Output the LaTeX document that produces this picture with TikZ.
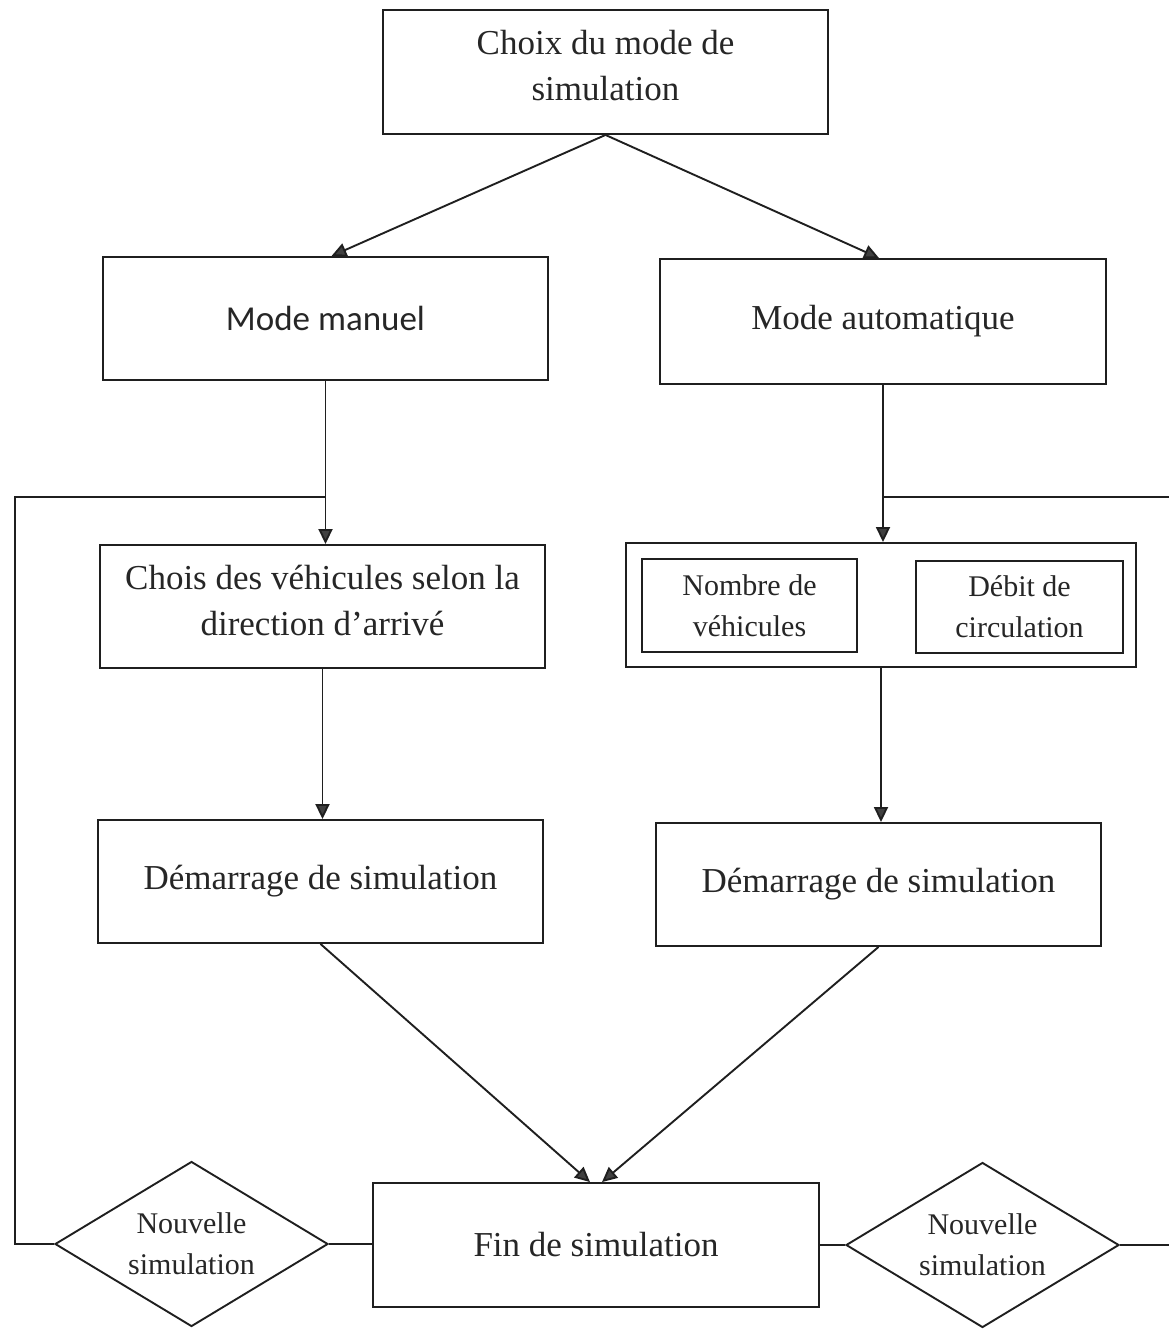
\documentclass[tikz,border=0pt]{standalone}
\usepackage{fontspec}
\setmainfont{Liberation Serif}
\newfontfamily\calfont{Carlito}
\usetikzlibrary{arrows.meta,shapes.geometric,calc}

\tikzset{
  every picture/.style={x=1pt,y=-1pt},
  line/.style={line width=1.9pt,draw=black!88},
  flow/.style={line,-{Triangle[length=15pt,width=14pt,fill=black!75]}},
  box/.style={line,rectangle,inner sep=0pt,align=center,text=black!85,
    font=\fontsize{35}{46}\selectfont},
  smallbox/.style={box,font=\fontsize{30}{41}\selectfont},
  choice/.style={line,diamond,aspect=1.65,inner sep=0pt,align=center,text=black!85,
    minimum width=273pt,minimum height=165pt,
    font=\fontsize{30}{41}\selectfont},
}

\begin{document}
\begin{tikzpicture}
\useasboundingbox (0,0) rectangle (1169,1330);

% main column boxes
\node[box,minimum width=445pt,minimum height=124pt] (top) at (605.5,72)
  {Choix du mode de\\simulation\\[-33pt]};
\node[box,minimum width=445pt,minimum height=123pt,font=\calfont\fontsize{35}{46}\selectfont]
  (mm) at (325.5,318.5) {Mode manuel};
\node[box,minimum width=446pt,minimum height=125pt] (ma) at (883,321.5)
  {Mode automatique};
\node[box,minimum width=445pt,minimum height=123pt] (cv) at (322.5,606.5)
  {Chois des véhicules selon la\\direction d’arrivé\\[-33pt]};
\node[box,minimum width=510pt,minimum height=124pt] (outer) at (881,605) {};
\node[smallbox,minimum width=215pt,minimum height=93pt] (nb) at (749.5,605.5)
  {Nombre de\\véhicules};
\node[smallbox,minimum width=207pt,minimum height=92pt] (db) at (1019.5,607)
  {Débit de\\circulation};
\node[box,minimum width=445pt,minimum height=123pt] (d1) at (320.5,881.5)
  {Démarrage de simulation};
\node[box,minimum width=445pt,minimum height=123pt] (d2) at (878.5,884.5)
  {Démarrage de simulation};
\node[box,minimum width=446pt,minimum height=124pt] (fin) at (596,1245)
  {Fin de simulation};
\node[choice] (nl) at (191.5,1244) {Nouvelle\\simulation};
\node[choice] (nr) at (982.5,1245) {Nouvelle\\simulation};

% junctions and free ends of the feedback lines
\coordinate (jl) at (325.5,497);
\coordinate (jr) at (883,497);
\coordinate (lc) at (15,497);
\coordinate (rc1) at (1169,497);
\coordinate (rc2) at (1169,1245);

% connectors
\draw[flow] (top.south) -- ([xshift=6pt]mm.north);
\draw[flow] (top.south) -- ([xshift=-4pt]ma.north);
\draw[flow] (mm.south) -- (mm.south |- cv.north);
\draw[flow] (ma.south) -- (ma.south |- outer.north);
\draw[flow] (cv.south) -- (cv.south |- d1.north);
\draw[flow] (outer.south) -- (outer.south |- d2.north);
\draw[flow] (d1.south) -- ([xshift=-6pt]fin.north);
\draw[flow] (d2.south) -- ([xshift=6pt]fin.north);

\draw[line] (nl.east) -- (nl.east -| fin.west);
\draw[line] (fin.east) -- (nr.west);
\draw[line] (jl) -- (lc) |- (nl.west);
\draw[line] (jr) -- (rc1);
\draw[line] (nr.east) -- (rc2);
\end{tikzpicture}
\end{document}
